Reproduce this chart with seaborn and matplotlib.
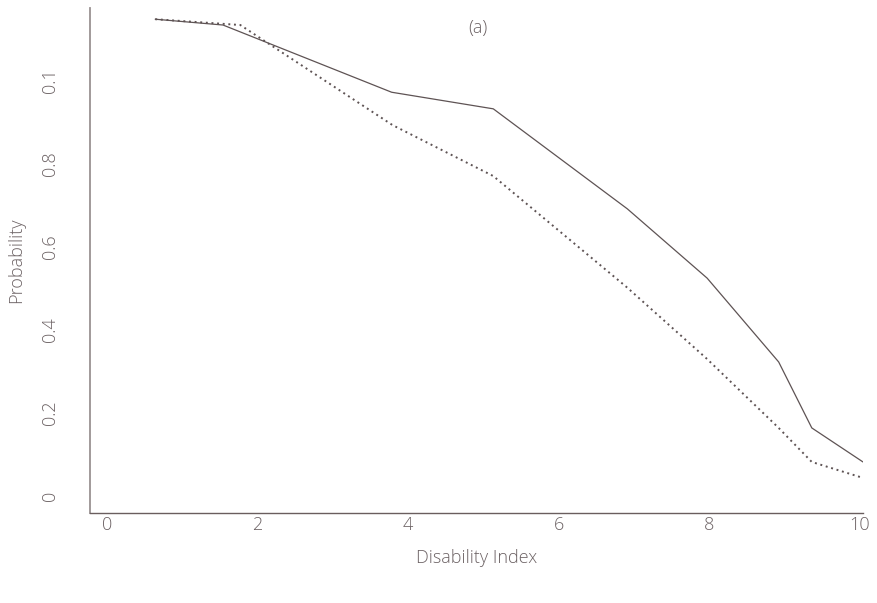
import matplotlib
matplotlib.use("Agg")
import matplotlib.pyplot as plt
import seaborn as sns
import pandas as pd

# data
solid_x = [0.64, 1.54, 3.78, 5.13, 6.91, 7.97, 8.92, 9.36, 10.04]
solid_y = [1.149, 1.135, 0.973, 0.933, 0.692, 0.525, 0.323, 0.164, 0.082]
dotted_x = [0.64, 1.77, 3.79, 5.13, 6.91, 7.97, 8.92, 9.36, 10.05]
dotted_y = [1.149, 1.135, 0.894, 0.771, 0.502, 0.330, 0.164, 0.082, 0.043]
x_ticks = [0, 2, 4, 6, 8, 10]
x_tick_labels = ["0", "2", "4", "6", "8", "10"]
y_ticks = [0, 0.2, 0.4, 0.6, 0.8, 1.0]
y_tick_labels = ["0", "0.2", "0.4", "0.6", "0.8", "0.1"]

sns.set_theme(style="white")
plt.rcParams['font.family'] = ['Open Sans', 'DejaVu Sans']
plt.rcParams['font.weight'] = 'light'

text_c = "#6c6264"
line_c = "#5e5354"
fs = 13

fig = plt.figure(figsize=(8.77, 6.03), dpi=100)
ax = fig.add_axes([90/877, 1-513/603, (863-90)/877, (513-8)/603])

df_s = pd.DataFrame({"x": solid_x, "y": solid_y})
df_d = pd.DataFrame({"x": dotted_x, "y": dotted_y})
sns.lineplot(data=df_s, x="x", y="y", ax=ax, sort=False, color=line_c, lw=0.9)
sns.lineplot(data=df_d, x="x", y="y", ax=ax, sort=False, color=line_c, lw=1.4,
             linestyle=(0, (1, 1.9)))

ax.set_xlim(-0.226, 10.04)
ax.set_ylim(-0.041, 1.176)
ax.set_xticks(x_ticks)
ax.set_xticklabels(x_tick_labels, fontweight="light")
ax.set_yticks(y_ticks)
ax.set_yticklabels(y_tick_labels, rotation=90, va="center", fontweight="light")
ax.tick_params(axis="both", length=0, labelsize=fs, labelcolor=text_c)
ax.tick_params(axis="x", pad=2)
ax.tick_params(axis="y", pad=22)

for s in ["top", "right"]:
    ax.spines[s].set_visible(False)
ax.spines["left"].set_color("#9a9292")
ax.spines["left"].set_linewidth(1.3)
ax.spines["bottom"].set_color("#6a5e5e")
ax.spines["bottom"].set_linewidth(1.0)

ax.set_xlabel("Disability Index", fontsize=fs, color=text_c, labelpad=11,
              fontweight="light")
ax.set_ylabel("Probability", fontsize=fs, color=text_c, fontweight="light")
ax.yaxis.set_label_coords(-65/773, 0.5)
ax.text(0.502, 0.96, "(a)", transform=ax.transAxes, ha="center", va="center",
        fontsize=fs, color=text_c, fontweight="light")

fig.savefig("out.png", dpi=100)
